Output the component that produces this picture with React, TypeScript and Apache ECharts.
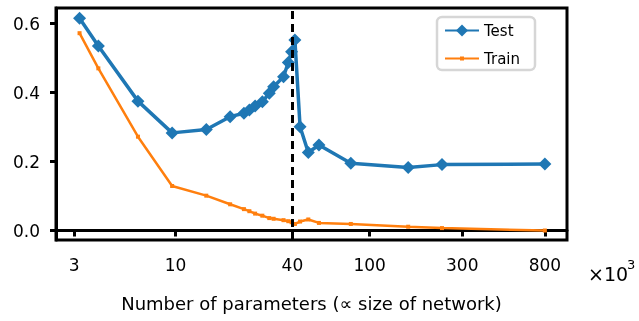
import React, { useEffect, useRef } from "react";
import * as echarts from "echarts";

const params = [3.2, 4, 6.4, 9.6, 14.4, 19.1, 22.5, 24, 25.7, 28, 30.4, 32, 36, 38.1, 39.6, 41.2, 43.8, 48.3, 54.8, 80, 158, 236, 800];
const testErr = [0.615, 0.535, 0.375, 0.283, 0.293, 0.33, 0.34, 0.349, 0.361, 0.373, 0.398, 0.417, 0.446, 0.487, 0.518, 0.552, 0.301, 0.226, 0.248, 0.195, 0.183, 0.191, 0.193];
const trainErr = [0.572, 0.47, 0.272, 0.129, 0.101, 0.076, 0.062, 0.056, 0.049, 0.043, 0.036, 0.034, 0.03, 0.027, 0.024, 0.019, 0.026, 0.032, 0.022, 0.019, 0.011, 0.007, 0.0];
const xTicks = [3, 10, 40, 100, 300, 800];
const yTicks = [0, 0.2, 0.4, 0.6];
const threshold = 40;

export default function App() {
  const ref = useRef<HTMLDivElement>(null);
  useEffect(() => {
    if (!ref.current) return;
    const chart = echarts.init(ref.current, null, { renderer: "svg" });
    const font = "DejaVu Sans";
    const legendCommon = {
      orient: "vertical",
      left: 444,
      padding: 0,
      itemWidth: 34,
      itemGap: 0,
      textStyle: { fontSize: 15, color: "#000", fontFamily: font },
      z: 10,
    };
    chart.setOption({
      animation: false,
      textStyle: { fontFamily: font },
      grid: {
        left: 56, right: 72, top: 8, bottom: 81,
        show: true, borderColor: "#000", borderWidth: 3, backgroundColor: "transparent",
      },
      xAxis: {
        type: "log",
        logBase: 10,
        min: 2.42,
        max: 1040,
        name: "Number of parameters (\u221d size of network)",
        nameLocation: "middle",
        nameGap: 54,
        nameTextStyle: { fontSize: 18, color: "#000", fontFamily: font },
        axisLine: { show: true, lineStyle: { color: "#000", width: 3 } },
        axisTick: { show: true, inside: false, length: 6, lineStyle: { color: "#000", width: 3 }, customValues: xTicks },
        axisLabel: { show: true, fontSize: 17, color: "#000", margin: 16, customValues: xTicks, formatter: (v: number) => String(Math.round(v)) },
        splitLine: { show: false },
        minorTick: { show: false },
        minorSplitLine: { show: false },
      },
      yAxis: {
        type: "value",
        min: -0.0275,
        max: 0.645,
        axisLine: { show: true, lineStyle: { color: "#000", width: 3 } },
        axisTick: { show: true, length: 6, lineStyle: { color: "#000", width: 3 }, customValues: yTicks },
        axisLabel: { show: true, fontSize: 17, color: "#000", margin: 16, customValues: yTicks, formatter: (v: number) => v.toFixed(1) },
        splitLine: { show: false },
      },
      legend: [
        { ...legendCommon, top: 23, itemHeight: 15, data: ["Test"] },
        { ...legendCommon, top: 51, itemHeight: 5, data: ["Train"] },
      ],
      graphic: [
        {
          type: "rect", z: 5,
          shape: { x: 437, y: 17, width: 98, height: 53, r: 5 },
          style: { fill: "#fff", stroke: "#d6d6d6", lineWidth: 2.5 },
        },
        { type: "text", left: 588, top: 264, style: { text: "\u00d710", fontSize: 19, fill: "#000", fontFamily: font } },
        { type: "text", left: 627, top: 258, style: { text: "3", fontSize: 13, fill: "#000", fontFamily: font } },
      ],
      series: [
        {
          name: "Test",
          type: "line",
          data: params.map((x, i) => [x, testErr[i]]),
          symbol: "diamond",
          symbolSize: 13,
          showAllSymbol: true,
          lineStyle: { color: "#1f77b4", width: 3.5 },
          itemStyle: { color: "#1f77b4" },
          z: 3,
          markLine: {
            silent: true,
            symbol: "none",
            label: { show: false },
            lineStyle: { color: "#000", type: [8, 5], width: 3 },
            data: [{ xAxis: threshold }],
          },
        },
        {
          name: "Train",
          type: "line",
          data: params.map((x, i) => [x, trainErr[i]]),
          symbol: "rect",
          symbolSize: 4,
          showAllSymbol: true,
          lineStyle: { color: "#ff7f0e", width: 2.5 },
          itemStyle: { color: "#ff7f0e" },
          z: 2,
        },
      ],
    });
    return () => chart.dispose();
  }, []);
  return <div ref={ref} style={{ position: "fixed", left: 0, top: 0, width: 639, height: 321 }} />;
}
